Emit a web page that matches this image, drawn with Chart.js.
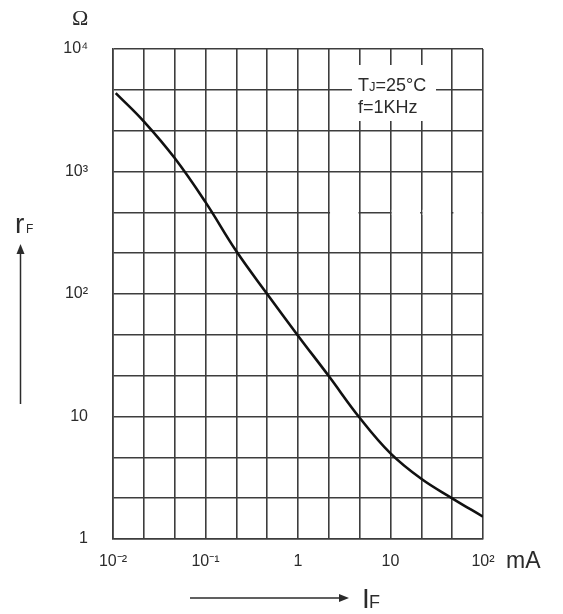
<!DOCTYPE html>
<html>
<head>
<meta charset="utf-8">
<script src="https://cdn.jsdelivr.net/npm/chart.js@4.4.1/dist/chart.umd.min.js"></script>
<style>
  html, body { margin: 0; padding: 0; background: #fff; }
  #wrap { width: 563px; height: 614px; }
</style>
</head>
<body>
<div id="wrap"><canvas id="c" width="563" height="614"></canvas></div>
<script>
/* rF vs IF, log–log, Tj = 25 °C, f = 1 kHz.
   Values; grid is 3 lines per decade on both axes. */
const currentMA     = [0.0107, 0.0215, 0.0464, 0.1, 0.215, 0.464, 1, 2.15, 4.64, 10, 21.5, 46.4, 100];
const resistanceOhm = [4365, 2570, 1288, 562, 224, 100, 45.7, 21.4, 9.77, 5.0, 3.1, 2.15, 1.52];

const xTickLabels = ["10⁻²", "10⁻¹", "1", "10", "10²"];
const yTickLabels = ["1", "10", "10²", "10³", "10⁴"];
const X_MIN = 0.01, X_MAX = 100, Y_MIN = 1, Y_MAX = 1e4;
const PER_DECADE = 3;

// grid values: one line every 1/3 decade
const gridValues = (min, max) => {
  const n = Math.round(Math.log10(max / min) * PER_DECADE);
  const out = [];
  for (let i = 0; i <= n; i++) out.push(min * Math.pow(10, i / PER_DECADE));
  return out;
};
const gridX = gridValues(X_MIN, X_MAX);
const gridY = gridValues(Y_MIN, Y_MAX);

const INK = "#2b2b2b", GRID = "#3d3d3d", SANS = '"Liberation Sans", Arial, sans-serif';

// ---- decorations: note box, gaps in the grid, axis names and arrows
const decor = {
  id: "decor",
  beforeDatasetsDraw(chart) {
    const { ctx, chartArea: a, scales: { x, y } } = chart;
    ctx.save();
    ctx.fillStyle = "#fff";
    // the 10^(8/3) row line is only partly printed in the original
    const yr = y.getPixelForValue(gridY[8]);
    [7, 9, 10, 11].forEach(k => {
      const x0 = x.getPixelForValue(gridX[k]) + 1.2, x1 = x.getPixelForValue(gridX[k + 1]) - 1.2;
      ctx.fillRect(x0, yr - 2.5, x1 - x0, 5);
    });
    // blank box behind the conditions note
    ctx.fillRect(a.left + 239, a.top + 16, 84, 56);
    // note text
    ctx.fillStyle = INK;
    ctx.textBaseline = "alphabetic";
    let tx = a.left + 245;
    ctx.font = "18px " + SANS; ctx.fillText("T", tx, a.top + 42); tx += ctx.measureText("T").width;
    ctx.font = "13px " + SANS; ctx.fillText("J", tx, a.top + 42); tx += ctx.measureText("J").width;
    ctx.font = "18px " + SANS; ctx.fillText("=25°C", tx, a.top + 42);
    ctx.fillText("f=1KHz", a.left + 245, a.top + 64);
    ctx.restore();
  },
  afterDraw(chart) {
    const { ctx } = chart;
    ctx.save();
    ctx.fillStyle = INK;
    ctx.textBaseline = "alphabetic";
    ctx.font = '22px "Liberation Serif", serif';
    ctx.fillText("Ω", 72, 25);
    ctx.font = "23px " + SANS;
    ctx.fillText("mA", 506, 568);
    // I_F
    ctx.font = "28px " + SANS; ctx.fillText("I", 362, 608);
    ctx.font = "18px " + SANS; ctx.fillText("F", 369, 608);
    // r_F
    ctx.font = "28px " + SANS; ctx.fillText("r", 15, 233);
    ctx.font = "12px " + SANS; ctx.fillText("F", 26, 233);
    // arrows
    ctx.strokeStyle = INK; ctx.lineWidth = 1.5;
    ctx.beginPath(); ctx.moveTo(20.5, 404); ctx.lineTo(20.5, 252); ctx.stroke();
    ctx.beginPath(); ctx.moveTo(20.5, 244); ctx.lineTo(16.5, 254); ctx.lineTo(24.5, 254); ctx.closePath(); ctx.fill();
    ctx.beginPath(); ctx.moveTo(190, 598); ctx.lineTo(340, 598); ctx.stroke();
    ctx.beginPath(); ctx.moveTo(349, 598); ctx.lineTo(339, 594); ctx.lineTo(339, 602); ctx.closePath(); ctx.fill();
    ctx.restore();
  },
};

const axisCommon = {
  type: "logarithmic",
  grid: { color: GRID, lineWidth: 1.6, drawTicks: false },
  border: { display: true, color: GRID, width: 1.6 },
};

new Chart(document.getElementById("c"), {
  type: "line",
  data: {
    datasets: [{
      data: currentMA.map((v, i) => ({ x: v, y: resistanceOhm[i] })),
      borderColor: "#111", borderWidth: 2.6, pointRadius: 0,
      tension: 0.4, fill: false,
    }],
  },
  options: {
    responsive: false, animation: false, devicePixelRatio: 1,
    layout: { padding: { left: 0, top: 49, right: 80, bottom: 0 } },
    plugins: { legend: { display: false }, tooltip: { enabled: false } },
    scales: {
      x: {
        ...axisCommon, min: X_MIN, max: X_MAX,
        afterBuildTicks: s => { s.ticks = gridX.map(v => ({ value: v })); },
        afterFit: s => { s.height = 75; },
        ticks: { autoSkip: false, maxRotation: 0, padding: 13, color: INK,
                 font: { family: SANS, size: 16 },
                 callback: (v, i) => i % PER_DECADE === 0 ? xTickLabels[i / PER_DECADE] : "" },
      },
      y: {
        ...axisCommon, min: Y_MIN, max: Y_MAX,
        afterBuildTicks: s => { s.ticks = gridY.map(v => ({ value: v })); },
        afterFit: s => { s.width = 113; },
        ticks: { autoSkip: false, padding: 25, color: INK,
                 font: { family: SANS, size: 16 },
                 callback: (v, i) => i % PER_DECADE === 0 ? yTickLabels[i / PER_DECADE] : "" },
      },
    },
  },
  plugins: [decor],
});
</script>
</body>
</html>
